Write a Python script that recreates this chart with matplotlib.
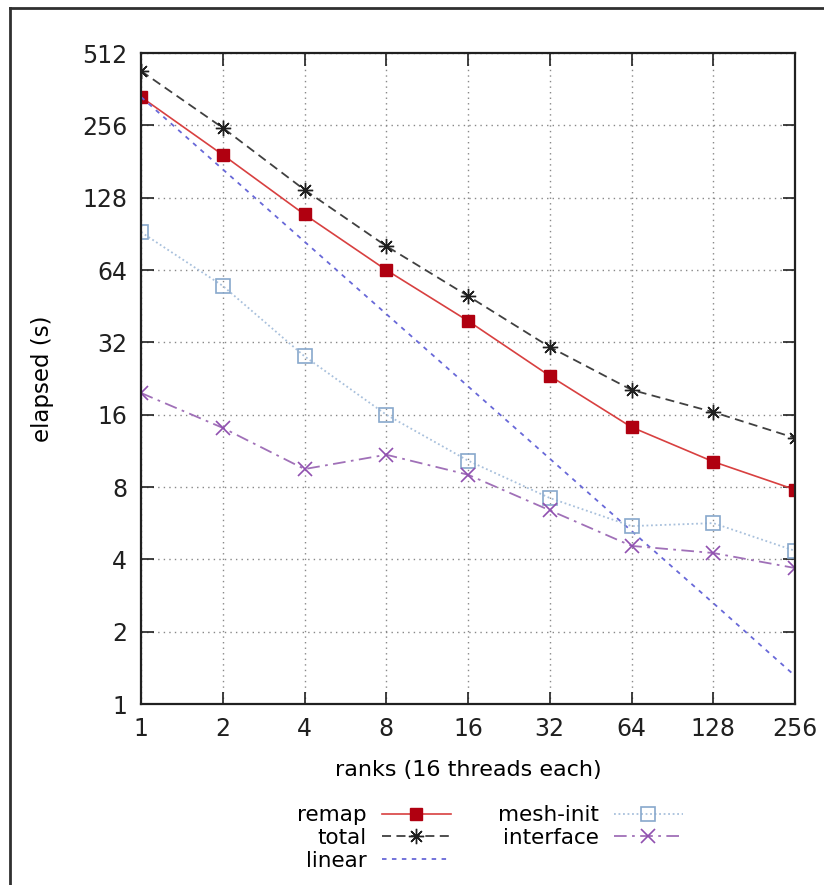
import numpy as np
import matplotlib
matplotlib.use("Agg")
import matplotlib.pyplot as plt
from matplotlib.lines import Line2D

# ranks (16 threads each)
ranks = [1, 2, 4, 8, 16, 32, 64, 128, 256]

# elapsed seconds
remap = [336, 193, 109, 64, 39.3, 23.2, 14.2, 10.2, 7.8]
total = [431, 250, 138, 80.5, 49.9, 30.6, 20.3, 16.4, 12.8]
linear = [336, 168, 84, 42, 21, 10.5, 5.25, 2.63, 1.31]
mesh_init = [92, 55, 28, 16, 10.3, 7.2, 5.5, 5.66, 4.34]
interface = [19.7, 14.1, 9.5, 10.9, 9.0, 6.4, 4.55, 4.25, 3.68]

y_ticks = [1, 2, 4, 8, 16, 32, 64, 128, 256, 512]

plt.rcParams['font.family'] = ['DejaVu Sans']

fig = plt.figure(figsize=(8.24, 8.85), dpi=100)
ax = fig.add_axes([141 / 824, 1 - 704 / 885, (795 - 141) / 824, (704 - 53) / 885])

ax.plot(ranks, remap, color='#d84040', lw=1.2, marker='s', ms=9,
        mfc='#b00010', mec='#b00010', label='remap')
ax.plot(ranks, total, color='#404040', lw=1.3, ls=(0, (5, 3)), marker=(8, 2, 0), ms=11,
        mec='#202020', mew=1.0, label='total')
ax.plot(ranks, linear, color='#6868d8', lw=1.3, ls=(0, (2.5, 3)), label='linear')
ax.plot(ranks, mesh_init, color='#a8c0dc', lw=1.3, ls=(0, (1, 1.5)), marker='s', ms=10,
        mfc='none', mec='#88a8cc', mew=1.2, label='mesh-init')
ax.plot(ranks, interface, color='#a070b8', lw=1.3, ls=(0, (7, 3, 1.5, 3)), marker='x', ms=10,
        mec='#9050b0', mew=1.2, label='interface')

ax.set_xscale('log', base=2)
ax.set_yscale('log', base=2)
ax.set_xlim(1, 256)
ax.set_ylim(1, 512)
ax.set_xticks(ranks)
ax.set_xticklabels([str(r) for r in ranks])
ax.set_yticks(y_ticks)
ax.set_yticklabels([str(v) for v in y_ticks])
ax.minorticks_off()

ax.tick_params(direction='in', length=9, width=1.2, top=True, right=True,
               labelsize=17, pad=9, colors='#202020')
ax.tick_params(axis='y', pad=10)
ax.grid(True, color='#888888', ls=(0, (1, 3)), lw=1.0)
for s in ax.spines.values():
    s.set_linewidth(1.6)
    s.set_color('#202020')

ax.set_xlabel('ranks (16 threads each)', fontsize=16, labelpad=14)
ax.set_ylabel('elapsed (s)', fontsize=16.5, labelpad=20)

leg = fig.legend(loc='upper center', bbox_to_anchor=(490 / 824, 1 - 786 / 885),
                 ncol=2, frameon=False, markerfirst=False, fontsize=15.5,
                 handlelength=3.2, handletextpad=0.7, columnspacing=2.2,
                 labelspacing=0.12)

# outer border of the screenshot
fig.add_artist(Line2D([10 / 824, 10 / 824], [0, 1 - 8 / 885], transform=fig.transFigure,
                      color='#303030', lw=2))
fig.add_artist(Line2D([10 / 824, 1], [1 - 8 / 885, 1 - 8 / 885], transform=fig.transFigure,
                      color='#303030', lw=2))

fig.savefig('out.png', dpi=100)
